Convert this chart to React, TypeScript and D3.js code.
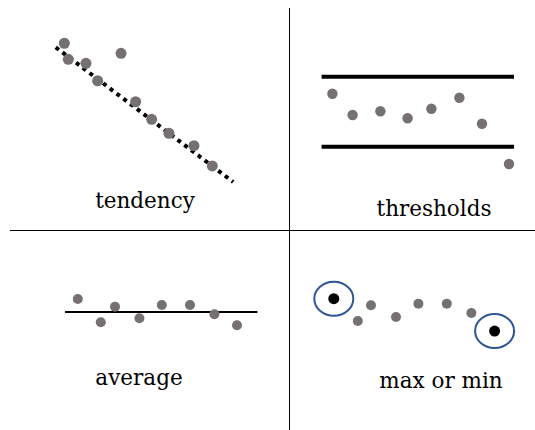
import * as d3 from "d3";
import { useEffect, useRef } from "react";

// ---- data (panel units, 0..10 on each axis) ----
const tendencyX = [0.52, 0.74, 1.72, 3.67, 2.37, 4.48, 5.37, 6.33, 7.72, 8.74];
const tendencyY = [9.45, 8.38, 8.11, 8.78, 6.95, 5.55, 4.38, 3.45, 2.62, 1.27];
const tendencyLine = [
  { x: 0.04, y: 9.18 },
  { x: 9.9, y: 0.2 },
];

const thresholdX = [0.62, 1.63, 3.02, 4.38, 5.57, 6.97, 8.1, 9.45];
const thresholdY = [7.63, 5.5, 5.87, 5.17, 6.13, 7.23, 4.63, 0.6];
const thresholdLevels = [9.33, 2.33];
const thresholdSpan = [0.08, 9.7];

const averageX = [0.89, 2.04, 2.75, 3.97, 5.09, 6.5, 7.72, 8.85];
const averageY = [7.6, 2.94, 6.06, 3.74, 6.4, 6.4, 4.54, 2.34];
const averageSpan = [0.25, 9.87];

const extremaX = [0.69, 1.89, 2.55, 3.8, 4.92, 6.34, 7.57, 8.73];
const extremaY = [7.72, 4.0, 6.62, 4.67, 6.88, 6.88, 5.33, 2.33];

const labels = ["tendency", "thresholds", "average", "max or min"];

const width = 535;
const height = 430;
const gray = "#767171";
const blue = "#2f5597";
const font = "'DejaVu Serif', serif";

const App = () => {
  const ref = useRef<SVGSVGElement>(null);

  useEffect(() => {
    const svg = d3.select(ref.current);
    svg.selectAll("*").remove();

    // dividers
    svg.append("line")
      .attr("x1", 289.5).attr("x2", 289.5)
      .attr("y1", 8).attr("y2", height)
      .attr("stroke", "#000").attr("stroke-width", 1);
    svg.append("line")
      .attr("x1", 10).attr("x2", width)
      .attr("y1", 230.5).attr("y2", 230.5)
      .attr("stroke", "#000").attr("stroke-width", 1);

    const dots = (g, xs, ys, x, y, r) => {
      g.selectAll(null)
        .data(xs.map((v, i) => ({ x: v, y: ys[i] })))
        .join("circle")
        .attr("cx", d => x(d.x))
        .attr("cy", d => y(d.y))
        .attr("r", r)
        .attr("fill", gray);
    };

    // --- tendency ---
    const tx = d3.scaleLinear().domain([0, 10]).range([55, 235]);
    const ty = d3.scaleLinear().domain([0, 10]).range([185, 35]);
    const g1 = svg.append("g");
    g1.append("path")
      .datum(tendencyLine)
      .attr("fill", "none")
      .attr("stroke", "#000")
      .attr("stroke-width", 4)
      .attr("stroke-dasharray", "4 4.5")
      .attr("d", d3.line<{ x: number; y: number }>().x(d => tx(d.x)).y(d => ty(d.y)));
    dots(g1, tendencyX, tendencyY, tx, ty, 5.5);

    // --- thresholds ---
    const hx = d3.scaleLinear().domain([0, 10]).range([320, 520]);
    const hy = d3.scaleLinear().domain([0, 10]).range([170, 70]);
    const g2 = svg.append("g");
    g2.selectAll("line")
      .data(thresholdLevels)
      .join("line")
      .attr("x1", hx(thresholdSpan[0]))
      .attr("x2", hx(thresholdSpan[1]))
      .attr("y1", d => hy(d))
      .attr("y2", d => hy(d))
      .attr("stroke", "#000")
      .attr("stroke-width", 4);
    dots(g2, thresholdX, thresholdY, hx, hy, 5.2);

    // --- average ---
    const ax = d3.scaleLinear().domain([0, 10]).range([60, 260]);
    const ay = d3.scaleLinear().domain([0, 10]).range([337, 287]);
    const g3 = svg.append("g");
    const mean = d3.mean(averageY) ?? 0;
    g3.append("line")
      .attr("x1", ax(averageSpan[0]))
      .attr("x2", ax(averageSpan[1]))
      .attr("y1", ay(mean))
      .attr("y2", ay(mean))
      .attr("stroke", "#000")
      .attr("stroke-width", 1.8);
    dots(g3, averageX, averageY, ax, ay, 5);

    // --- max or min ---
    const mx = d3.scaleLinear().domain([0, 10]).range([320, 520]);
    const my = d3.scaleLinear().domain([0, 10]).range([345, 285]);
    const g4 = svg.append("g");
    const iMax = d3.maxIndex(extremaY);
    const iMin = d3.minIndex(extremaY);
    const rest = extremaX.map((_, i) => i).filter(i => i !== iMax && i !== iMin);
    dots(g4, rest.map(i => extremaX[i]), rest.map(i => extremaY[i]), mx, my, 5);
    g4.selectAll("g.ext")
      .data([iMax, iMin])
      .join("g")
      .attr("class", "ext")
      .each(function (i) {
        const e = d3.select(this);
        e.append("ellipse")
          .attr("cx", mx(extremaX[i]))
          .attr("cy", my(extremaY[i]))
          .attr("rx", 19.5)
          .attr("ry", 17)
          .attr("fill", "none")
          .attr("stroke", blue)
          .attr("stroke-width", 2);
        e.append("circle")
          .attr("cx", mx(extremaX[i]))
          .attr("cy", my(extremaY[i]))
          .attr("r", 5.5)
          .attr("fill", "#000");
      });

    // labels
    const labelPos = [
      [145, 208],
      [434, 216],
      [139, 385],
      [441, 388],
    ];
    svg.selectAll("text.label")
      .data(labels)
      .join("text")
      .attr("class", "label")
      .attr("x", (_, i) => labelPos[i][0])
      .attr("y", (_, i) => labelPos[i][1])
      .attr("text-anchor", "middle")
      .attr("font-family", font)
      .attr("font-size", 21.5)
      .attr("fill", "#000")
      .text(d => d);
  }, []);

  return (
    <svg
      ref={ref}
      width={width}
      height={height}
      style={{ position: "absolute", left: 0, top: 0, background: "#fff" }}
    />
  );
};

export default App;
